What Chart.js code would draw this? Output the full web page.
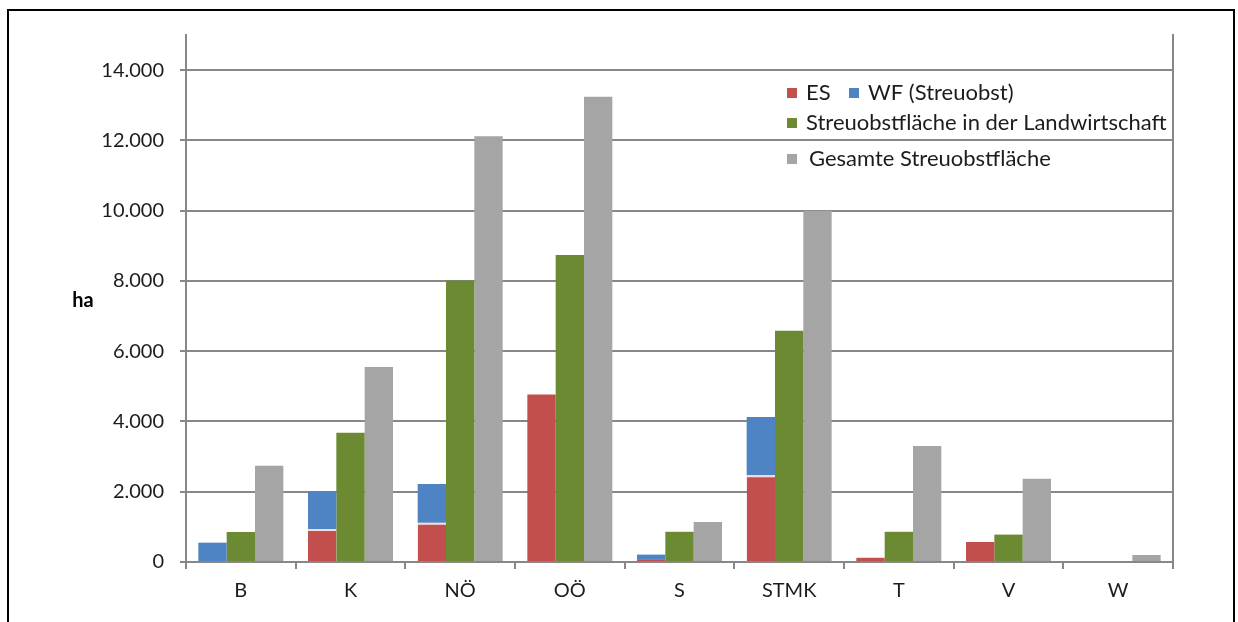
<!DOCTYPE html>
<html>
<head>
<meta charset="utf-8">
<script src="https://cdn.jsdelivr.net/npm/chart.js@4.4.1/dist/chart.umd.min.js"></script>
<style>
  html, body { margin: 0; padding: 0; background: #ffffff; }
  #wrap { position: relative; width: 1238px; height: 622px; overflow: hidden; }
  #c { position: absolute; left: 0; top: 0; }
  #frame { position: absolute; left: 7px; top: 9px; width: 1228px; height: 700px;
           border: 2px solid #000; box-sizing: border-box; pointer-events: none; }
</style>
</head>
<body>
<div id="wrap">
  <canvas id="c" width="1238" height="622"></canvas>
  <div id="frame"></div>
</div>
<script>
const categories = ['B', 'K', 'NÖ', 'OÖ', 'S', 'STMK', 'T', 'V', 'W'];
const esValues = [0, 940, 1120, 4770, 60, 2470, 120, 570, 0];
const wfValues = [550, 1080, 1100, 0, 150, 1660, 0, 0, 0];
const landwirtschaftValues = [855, 3680, 8010, 8740, 860, 6580, 860, 780, 0];
const gesamtValues = [2740, 5550, 12120, 13240, 1140, 10000, 3300, 2370, 200];
const yTickValues = [0, 2000, 4000, 6000, 8000, 10000, 12000, 14000];
const seriesLabels = ['ES', 'WF (Streuobst)', 'Streuobstfläche in der Landwirtschaft', 'Gesamte Streuobstfläche'];
const axisTitle = 'ha';

const FONT = 'Lato';
const TEXT = '#1c1c1c';
const GRID = '#878787';
const colors = ['#C24F4D', '#4F84C4', '#6B8A32', '#A5A5A5'];

function fmt(v) {
  return String(v).replace(/\B(?=(\d{3})+(?!\d))/g, '.');
}

const legendPlugin = {
  id: 'customLegend',
  afterDraw(chart) {
    const ctx = chart.ctx;
    const a = chart.chartArea;
    const ds = chart.data.datasets;
    const x0 = a.left + 601;
    ctx.save();
    ctx.font = '22px ' + FONT;
    ctx.textBaseline = 'middle';
    ctx.fillStyle = TEXT;
    const rows = [
      [{i: 0, x: x0}, {i: 1, x: x0 + 62}],
      [{i: 2, x: x0}],
      [{i: 3, x: x0}]
    ];
    const rowY = [a.top + 58, a.top + 88, a.top + 124];
    rows.forEach((row, r) => {
      row.forEach(item => {
        ctx.fillStyle = ds[item.i].backgroundColor;
        ctx.fillRect(item.x, rowY[r] - 5, 10, 10);
        ctx.fillStyle = TEXT;
        ctx.fillText(ds[item.i].label, item.x + (item.i === 3 ? 22 : 19), rowY[r]);
      });
    });
    // axis title "ha"
    const ys = chart.scales.y;
    ctx.font = 'bold 20px ' + FONT;
    ctx.textAlign = 'center';
    ctx.fillStyle = '#000';
    ctx.fillText(axisTitle, a.left - 103, ys.getPixelForValue(7450));
    ctx.restore();
  }
};

new Chart(document.getElementById('c'), {
  type: 'bar',
  data: {
    labels: categories,
    datasets: [
      { label: seriesLabels[0], data: esValues, backgroundColor: colors[0], stack: 'a',
        borderColor: '#F3DCDB', borderSkipped: 'bottom',
        borderWidth: c => (wfValues[c.dataIndex] > 0 && esValues[c.dataIndex] > 300) ? {top: 2, left: 0, right: 0, bottom: 0} : 0 },
      { label: seriesLabels[1], data: wfValues, backgroundColor: colors[1], stack: 'a' },
      { label: seriesLabels[2], data: landwirtschaftValues, backgroundColor: colors[2], stack: 'b' },
      { label: seriesLabels[3], data: gesamtValues, backgroundColor: colors[3], stack: 'c' }
    ]
  },
  options: {
    responsive: false,
    animation: false,
    devicePixelRatio: 1,
    layout: { padding: { left: 0, right: 65, top: 35, bottom: 0 } },
    datasets: { bar: { categoryPercentage: 0.775, barPercentage: 1.0 } },
    plugins: { legend: { display: false }, tooltip: { enabled: false } },
    scales: {
      x: {
        stacked: true,
        grid: { drawOnChartArea: false, drawTicks: true, tickLength: 7, color: GRID, lineWidth: 2, offset: true },
        border: { color: GRID, width: 2 },
        ticks: { padding: 10, color: TEXT, font: { family: FONT, size: 20 } },
        afterFit: s => { s.height = 60; }
      },
      y: {
        stacked: true,
        min: 0,
        max: 15000,
        afterBuildTicks: s => { s.ticks = yTickValues.map(v => ({ value: v })); },
        grid: { color: GRID, lineWidth: 2, tickLength: 6, drawTicks: true },
        border: { color: GRID, width: 2 },
        ticks: { padding: 16, color: TEXT, font: { family: FONT, size: 20 }, callback: v => fmt(v) },
        afterFit: s => { s.width = 186; }
      },
      y2: {
        position: 'right',
        min: 0,
        max: 15000,
        grid: { drawOnChartArea: false, drawTicks: false },
        border: { color: GRID, width: 2 },
        ticks: { display: false },
        afterFit: s => { s.width = 0; }
      }
    }
  },
  plugins: [legendPlugin]
});
</script>
</body>
</html>
